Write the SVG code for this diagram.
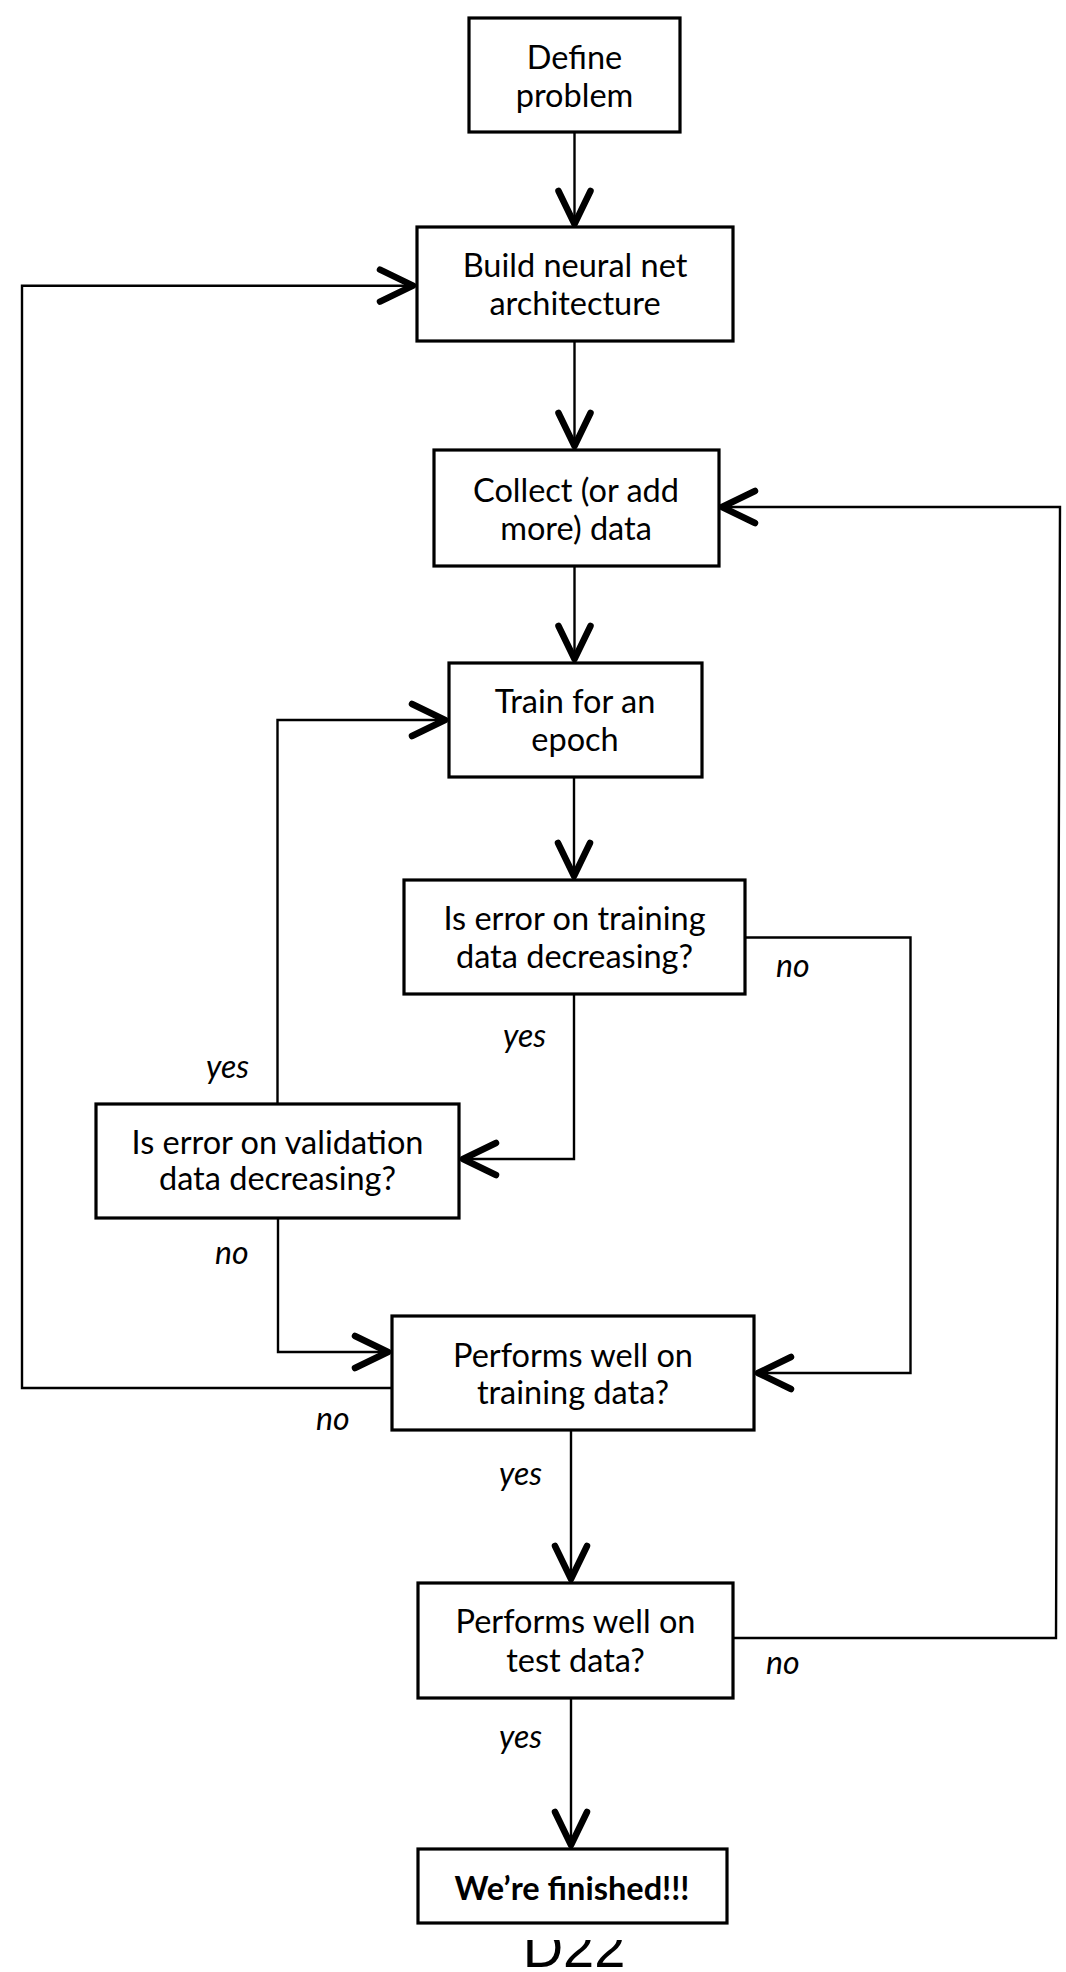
<svg xmlns="http://www.w3.org/2000/svg" width="1066" height="1972" viewBox="0 0 1066 1972">
<style>
.box{fill:#fff;stroke:#000;stroke-width:3.2}
.t{font-family:Lato,"Open Sans","Liberation Sans",sans-serif;font-size:32.5px;fill:#000;text-anchor:middle}
.b{font-weight:bold}
.lbl{font-family:Lato,"Open Sans","Liberation Sans",sans-serif;font-size:32px;font-style:italic;fill:#000}
.c{fill:none;stroke:#000;stroke-width:2.4;marker-end:url(#ah)}
</style>
<defs>
<marker id="ah" markerUnits="userSpaceOnUse" markerWidth="50" markerHeight="50" viewBox="-40 -25 50 50" refX="0" refY="0" orient="auto" overflow="visible">
<path d="M-33,-16 L0,0 L-33,16" fill="none" stroke="#000" stroke-width="6.5" stroke-linecap="round" stroke-linejoin="round"/>
</marker>
<clipPath id="cut"><rect x="0" y="1940" width="1066" height="40"/></clipPath>
</defs>
<rect width="1066" height="1972" fill="#fff"/>
<g id="connectors">
<path class="c" d="M574.5,133 V224"/>
<path class="c" d="M574.5,342 V446"/>
<path class="c" d="M574.5,567 V659"/>
<path class="c" d="M574,778 V876"/>
<path class="c" d="M574,995 V1159 H463"/>
<path class="c" d="M745,937.5 H910.5 V1373 H758"/>
<path class="c" d="M277.5,1103 V720 H445"/>
<path class="c" d="M278,1219 V1352 H388"/>
<path class="c" d="M391,1388 H22 V285.7 H413"/>
<path class="c" d="M571,1431 V1579"/>
<path class="c" d="M733,1638 H1056 L1060,507 H722"/>
<path class="c" d="M571,1699 V1845"/>
</g>
<g id="define"><rect class="box" x="469" y="18" width="211" height="114"/><text class="t" x="574.5" y="69">Define</text><text class="t" x="574.5" y="107">problem</text></g>
<g id="build"><rect class="box" x="417" y="227" width="316" height="114"/><text class="t" x="575" y="277">Build neural net</text><text class="t" x="575" y="315">architecture</text></g>
<g id="collect"><rect class="box" x="434" y="450" width="285" height="116"/><text class="t" x="576" y="502">Collect (or add</text><text class="t" x="576" y="540">more) data</text></g>
<g id="train"><rect class="box" x="449" y="663" width="253" height="114"/><text class="t" x="575" y="713">Train for an</text><text class="t" x="575" y="751">epoch</text></g>
<g id="errtrain"><rect class="box" x="404" y="880" width="341" height="114"/><text class="t" x="574.5" y="930">Is error on training</text><text class="t" x="574.5" y="968">data decreasing?</text></g>
<g id="errval"><rect class="box" x="96" y="1104" width="363" height="114"/><text class="t" x="277.5" y="1154">Is error on validation</text><text class="t" x="277.5" y="1190">data decreasing?</text></g>
<g id="perftrain"><rect class="box" x="392" y="1316" width="362" height="114"/><text class="t" x="573" y="1367">Performs well on</text><text class="t" x="573" y="1404">training data?</text></g>
<g id="perftest"><rect class="box" x="418" y="1583" width="315" height="115"/><text class="t" x="575.5" y="1633">Performs well on</text><text class="t" x="575.5" y="1672">test data?</text></g>
<g id="finished"><rect class="box" x="418" y="1849" width="309" height="74"/><text class="t b" x="572" y="1900">We’re finished!!!</text></g>
<g id="labels">
<text class="lbl" x="503" y="1047">yes</text>
<text class="lbl" x="206" y="1078">yes</text>
<text class="lbl" x="776" y="977">no</text>
<text class="lbl" x="215" y="1264">no</text>
<text class="lbl" x="316" y="1430">no</text>
<text class="lbl" x="499" y="1485">yes</text>
<text class="lbl" x="499" y="1748">yes</text>
<text class="lbl" x="766" y="1674">no</text>
</g>
<text x="574" y="1967" clip-path="url(#cut)" font-family="Liberation Sans, Arial, sans-serif" font-size="56" text-anchor="middle" fill="#000">D22</text>
</svg>
